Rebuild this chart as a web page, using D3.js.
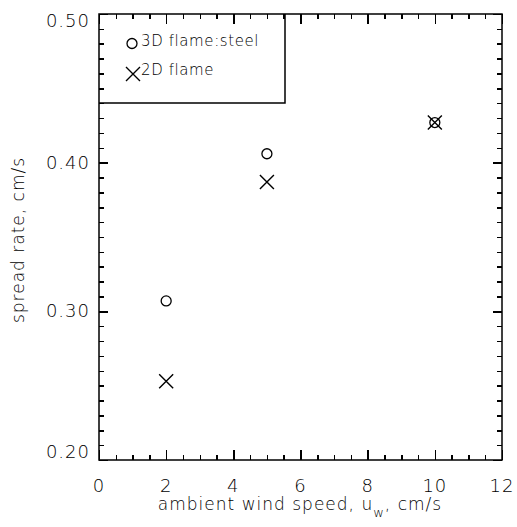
<!DOCTYPE html>
<html lang="en">
<head>
<meta charset="utf-8">
<title>spread rate vs ambient wind speed</title>
<script src="https://cdn.jsdelivr.net/npm/d3@7"></script>
<style>
  body { margin: 0; background: #fff; }
  text { font-family: "DejaVu Sans", sans-serif; font-weight: 200; fill: #000; }
  .axis path { display: none; }
  .axis line { stroke: #000; stroke-width: 1.5; shape-rendering: crispEdges; }
</style>
</head>
<body>
<script>
// data
var windSpeed = [2, 5, 10];
var rate3D = [0.307, 0.406, 0.427];
var rate2D = [0.253, 0.387, 0.427];
var xTicks = [0, 2, 4, 6, 8, 10, 12];
var yTicks = [0.20, 0.30, 0.40, 0.50];
var legendNames = ["3D flame:steel", "2D flame"];

var w = 517, h = 527;
var pLeft = 99, pRight = 502, pTop = 14, pBottom = 460;

var svg = d3.select("body").append("svg")
  .attr("width", w).attr("height", h);

var x = d3.scaleLinear().domain([0, 12]).range([pLeft, pRight]);
var y = d3.scaleLinear().domain([0.20, 0.50]).range([pBottom, pTop]);

var xMinor = d3.range(0, 25).map(function (i) { return i * 0.5; });
var yMinor = d3.range(0, 31).map(function (i) { return 0.20 + i * 0.01; });

// inward ticks on all four sides, minor then major
function ticks(axisFn, scale, vals, size, tx, ty) {
  svg.append("g").attr("class", "axis")
    .attr("transform", "translate(" + tx + "," + ty + ")")
    .call(axisFn(scale).tickValues(vals).tickSize(size).tickFormat(""));
}
ticks(d3.axisBottom, x, xMinor, -5, 0, pBottom);
ticks(d3.axisBottom, x, xTicks, -10, 0, pBottom);
ticks(d3.axisTop, x, xMinor, -5, 0, pTop);
ticks(d3.axisTop, x, xTicks, -10, 0, pTop);
ticks(d3.axisLeft, y, yMinor, -5, pLeft, 0);
ticks(d3.axisLeft, y, yTicks, -9, pLeft, 0);
ticks(d3.axisRight, y, yMinor, -5, pRight, 0);
ticks(d3.axisRight, y, yTicks, -9, pRight, 0);

// frame
svg.append("rect")
  .attr("x", pLeft).attr("y", pTop)
  .attr("width", pRight - pLeft).attr("height", pBottom - pTop)
  .attr("fill", "none").attr("stroke", "#000").attr("stroke-width", 1.5);

// tick labels
svg.selectAll(".xl").data(xTicks).enter().append("text")
  .attr("x", function (d) { return x(d); })
  .attr("y", 492)
  .attr("text-anchor", "middle")
  .attr("font-size", 18)
  .attr("letter-spacing", 1)
  .text(function (d) { return d; });

svg.selectAll(".yl").data(yTicks).enter().append("text")
  .attr("x", 90)
  .attr("y", function (d) { return Math.min(Math.max(y(d), 21), 452) + 6; })
  .attr("text-anchor", "end")
  .attr("font-size", 18)
  .attr("letter-spacing", 1)
  .text(function (d) { return d3.format(".2f")(d); });

// axis titles
var xt = svg.append("text")
  .attr("x", 300).attr("y", 510)
  .attr("text-anchor", "middle")
  .attr("font-size", 17)
  .attr("letter-spacing", 1);
xt.append("tspan").text("ambient wind speed, u");
xt.append("tspan").attr("dy", 7).attr("font-size", 13).text("w");
xt.append("tspan").attr("dy", -7).text(", cm/s");

svg.append("text")
  .attr("transform", "translate(24," + 240 + ") rotate(-90)")
  .attr("text-anchor", "middle")
  .attr("font-size", 17)
  .attr("letter-spacing", 1)
  .text("spread rate, cm/s");

// markers
function cross(sel, cx, cy, s) {
  sel.append("path")
    .attr("d", "M" + (cx - s) + "," + (cy - s) + "L" + (cx + s) + "," + (cy + s) +
               "M" + (cx - s) + "," + (cy + s) + "L" + (cx + s) + "," + (cy - s))
    .attr("stroke", "#000").attr("stroke-width", 1.4).attr("fill", "none");
}

svg.selectAll(".c3").data(windSpeed).enter().append("circle")
  .attr("cx", function (d) { return x(d); })
  .attr("cy", function (d, i) { return y(rate3D[i]); })
  .attr("r", 5)
  .attr("fill", "none").attr("stroke", "#000").attr("stroke-width", 1.3);

windSpeed.forEach(function (d, i) { cross(svg, x(d), y(rate2D[i]), 7); });

// legend box
svg.append("path")
  .attr("d", "M" + pLeft + ",103H285V" + pTop)
  .attr("stroke", "#000").attr("stroke-width", 1.5).attr("fill", "none");

svg.append("circle").attr("cx", 132).attr("cy", 43.5).attr("r", 5)
  .attr("fill", "none").attr("stroke", "#000").attr("stroke-width", 1.3);
cross(svg, 133, 74, 7);

svg.selectAll(".lg").data(legendNames).enter().append("text")
  .attr("x", 141)
  .attr("y", function (d, i) { return 46 + i * 29; })
  .attr("font-size", 15)
  .attr("letter-spacing", 0.6)
  .text(function (d) { return d; });
</script>
</body>
</html>
